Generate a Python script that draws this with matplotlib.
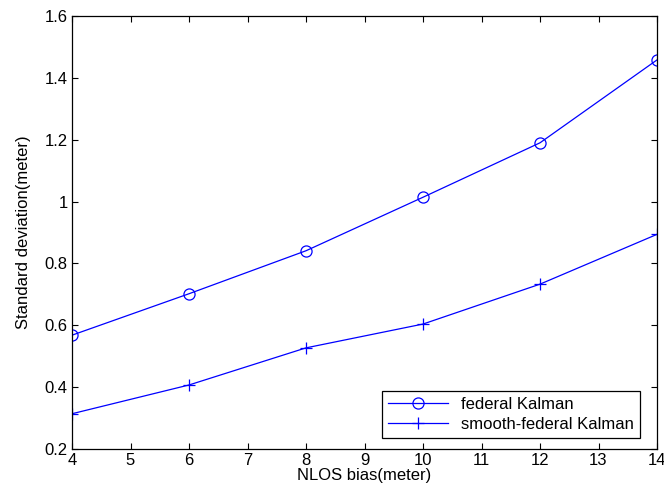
import matplotlib
matplotlib.use('Agg')
import matplotlib.pyplot as plt

# data
nlos_bias = [4, 6, 8, 10, 12, 14]
federal = [0.568, 0.702, 0.841, 1.014, 1.190, 1.458]
smooth_federal = [0.314, 0.407, 0.527, 0.604, 0.733, 0.894]

plt.rcParams['font.family'] = ['Liberation Sans', 'DejaVu Sans']

fig = plt.figure(figsize=(6.64, 4.93), dpi=100)
ax = fig.add_axes([72 / 664, 1 - 449 / 493, (657 - 72) / 664, (449 - 16) / 493])

ax.plot(nlos_bias, federal, color='#0000ff', lw=0.9, marker='o', ms=8,
        mfc='none', mew=0.9, label='federal Kalman')
ax.plot(nlos_bias, smooth_federal, color='#0000ff', lw=0.9, marker='+', ms=8,
        mew=0.9, label='smooth-federal Kalman')

ax.set_xlim(4, 14)
ax.set_ylim(0.2, 1.6)
ax.set_xticks(range(4, 15))
ax.set_yticks([0.2, 0.4, 0.6, 0.8, 1.0, 1.2, 1.4, 1.6])
ax.set_yticklabels(['0.2', '0.4', '0.6', '0.8', '1', '1.2', '1.4', '1.6'])
ax.tick_params(direction='in', top=True, right=True, labelsize=12, length=4, width=0.8, pad=3)
for s in ax.spines.values():
    s.set_linewidth(0.9)

# the "14" is cut by the right edge in the original too
ax.set_xlabel('NLOS bias(meter)', fontsize=12, labelpad=0)
ax.set_ylabel('Standard deviation(meter)', fontsize=12, labelpad=10)

leg = ax.legend(loc='lower right', bbox_to_anchor=(640 / 664, 1 - 438 / 493),
                bbox_transform=fig.transFigure, borderaxespad=0,
                fontsize=12, fancybox=False, framealpha=1, edgecolor='black',
                handlelength=3.6, labelspacing=0.3, borderpad=0.35)
leg.get_frame().set_linewidth(0.9)

fig.savefig('out.png', dpi=100)
